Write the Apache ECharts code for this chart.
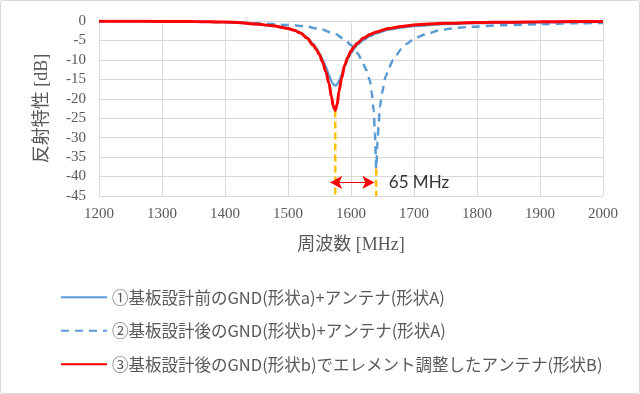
<!DOCTYPE html>
<html><head><meta charset="utf-8">
<script src="https://cdn.jsdelivr.net/npm/echarts@6/dist/echarts.min.js"></script>
<style>html,body{margin:0;padding:0;background:#fff}#c{width:640px;height:394px}</style>
</head><body><div id="c"></div>
<script>
const seriesNames = [
  '①基板設計前のGND(形状a)+アンテナ(形状A)',
  '②基板設計後のGND(形状b)+アンテナ(形状A)',
  '③基板設計後のGND(形状b)でエレメント調整したアンテナ(形状B)'
];
const xTicks = {min: 1200, max: 2000, step: 100};
const yTicks = {min: -45, max: 0, step: 5};

const freq1 = [1200,1250,1300,1350,1400,1425,1450,1475,1500,1510,1520,1530,1540,1545,1550,1555,1560,1565,1570,1573,1576,1579,1582,1585,1590,1595,1600,1605,1610,1620,1630,1640,1660,1680,1700,1750,1800,1850,1900,1950,2000];
const s1 =    [-0.05,-0.08,-0.1,-0.15,-0.3,-0.5,-0.85,-1.25,-1.9,-2.4,-3.0,-4.2,-5.9,-7.0,-8.3,-9.9,-11.7,-13.9,-15.8,-16.5,-16.6,-16.0,-15.0,-13.8,-11.6,-9.8,-8.3,-7.1,-6.1,-4.9,-3.9,-3.2,-2.2,-1.7,-1.3,-0.8,-0.55,-0.45,-0.35,-0.3,-0.25];

const freq2 = [1200,1300,1350,1400,1450,1500,1525,1550,1575,1590,1600,1610,1617,1624,1630,1633,1636,1638,1640,1642,1644,1646,1649,1655,1660,1667,1680,1690,1700,1720,1740,1760,1790,1840,1900,1950,2000];
const s2 =    [-0.05,-0.1,-0.2,-0.35,-0.6,-1.0,-1.3,-2.0,-3.3,-4.8,-6.2,-8.2,-10.0,-12.5,-15.3,-18.5,-23.0,-29.0,-38.0,-31.0,-26.0,-22.0,-18.6,-14.3,-12.0,-10.0,-7.2,-5.7,-4.5,-3.3,-2.4,-1.9,-1.5,-1.1,-0.8,-0.6,-0.5];

const freq3 = [1200,1250,1300,1350,1400,1425,1450,1475,1500,1510,1520,1530,1540,1545,1550,1555,1560,1565,1569,1572,1575,1578,1581,1585,1590,1595,1600,1605,1610,1620,1630,1640,1660,1680,1700,1750,1800,1850,1900,1950,2000];
const s3 =    [-0.05,-0.07,-0.1,-0.15,-0.25,-0.45,-0.8,-1.2,-1.9,-2.4,-3.1,-4.4,-6.2,-7.3,-8.7,-10.6,-13.0,-16.0,-19.5,-22.0,-23.0,-21.5,-18.0,-14.8,-11.3,-9.3,-7.7,-6.6,-5.7,-4.4,-3.5,-2.8,-1.9,-1.4,-1.0,-0.6,-0.4,-0.3,-0.2,-0.15,-0.1];

const markFreqs = [1575, 1640];
const markMins = [-23.0, -38.0];
const arrowY = -41.5;
const arrowFrom = 1567, arrowTo = 1637;
const diffLabel = '65 MHz';

const zip = (a, b) => a.map((v, i) => [v, b[i]]);
const serif = '"Liberation Serif","Times New Roman",serif';
const gray = '#595959';

const chart = echarts.init(document.getElementById('c'), null, {renderer: 'canvas'});
chart.setOption({
  animation: false,
  backgroundColor: '#fff',
  graphic: [{type: 'rect', shape: {x: 0.5, y: 0.5, width: 639, height: 393, r: 2}, style: {fill: 'none', stroke: '#d9d9d9', lineWidth: 1}, z: -1}],
  grid: {left: 99, right: 37, top: 21, bottom: 198},
  legend: {
    data: seriesNames,
    orient: 'vertical', left: 55, top: 284,
    itemWidth: 46, itemHeight: 14, itemGap: 17,
    itemStyle: {opacity: 0},
    textStyle: {fontFamily: '"Noto Sans CJK JP"', fontSize: 16.5, color: gray}
  },
  xAxis: {
    type: 'value', min: xTicks.min, max: xTicks.max, interval: xTicks.step,
    name: '周波数 [MHz]', nameLocation: 'middle', nameGap: 40,
    nameTextStyle: {fontFamily: serif + ',"Noto Sans CJK JP"', fontSize: 18, color: gray},
    axisLine: {show: true, lineStyle: {color: '#d9d9d9'}}, axisTick: {show: false},
    axisLabel: {fontFamily: serif, fontSize: 15, color: gray, margin: 11, formatter: v => String(v)},
    splitLine: {show: true, lineStyle: {color: '#d9d9d9'}}
  },
  yAxis: {
    type: 'value', min: yTicks.min, max: yTicks.max, interval: yTicks.step,
    name: '反射特性 [dB]', nameLocation: 'middle', nameGap: 48,
    nameTextStyle: {fontFamily: serif + ',"Noto Sans CJK JP"', fontSize: 18, color: gray},
    axisLine: {show: true, lineStyle: {color: '#d9d9d9'}}, axisTick: {show: false},
    axisLabel: {fontFamily: serif, fontSize: 15, color: gray, margin: 13},
    splitLine: {show: true, lineStyle: {color: '#d9d9d9'}}
  },
  series: [
    {name: seriesNames[0], type: 'line', data: zip(freq1, s1), symbol: 'none', smooth: 0.3, smoothMonotone: 'x',
     lineStyle: {color: '#5B9BD5', width: 2.25}, itemStyle: {color: '#5B9BD5'}, z: 2},
    {name: seriesNames[1], type: 'line', data: zip(freq2, s2), symbol: 'none', smooth: 0.25, smoothMonotone: 'x',
     lineStyle: {color: '#5B9BD5', width: 2.5, type: [8, 6]}, itemStyle: {color: '#5B9BD5'}, z: 3},
    {name: seriesNames[2], type: 'line', data: zip(freq3, s3), symbol: 'none', smooth: 0.3, smoothMonotone: 'x',
     lineStyle: {color: '#FF0000', width: 3}, itemStyle: {color: '#FF0000'}, z: 5},
    {name: 'mark1', type: 'line', data: [[markFreqs[0], markMins[0]], [markFreqs[0], yTicks.min]], symbol: 'none',
     lineStyle: {color: '#FFC000', width: 2.5, type: [7, 4]}, z: 4},
    {name: 'mark2', type: 'line', data: [[markFreqs[1], markMins[1]], [markFreqs[1], yTicks.min]], symbol: 'none',
     lineStyle: {color: '#FFC000', width: 2.5, type: [7, 4]}, z: 4},
    {name: 'arrow', type: 'line', data: [], symbol: 'none', z: 6,
     markLine: {silent: true, symbol: ['arrow', 'arrow'], symbolSize: [10, 12],
       lineStyle: {color: '#FF0000', width: 1, type: 'solid'}, label: {show: false},
       data: [[{coord: [arrowFrom, arrowY]}, {coord: [arrowTo, arrowY]}]]}},
    {name: 'label', type: 'scatter', data: [[1660, arrowY]], symbolSize: 0, z: 6,
     label: {show: true, position: 'right', distance: 0, formatter: diffLabel,
       fontFamily: 'Lato', fontSize: 17, color: '#000'}}
  ]
});
</script></body></html>
